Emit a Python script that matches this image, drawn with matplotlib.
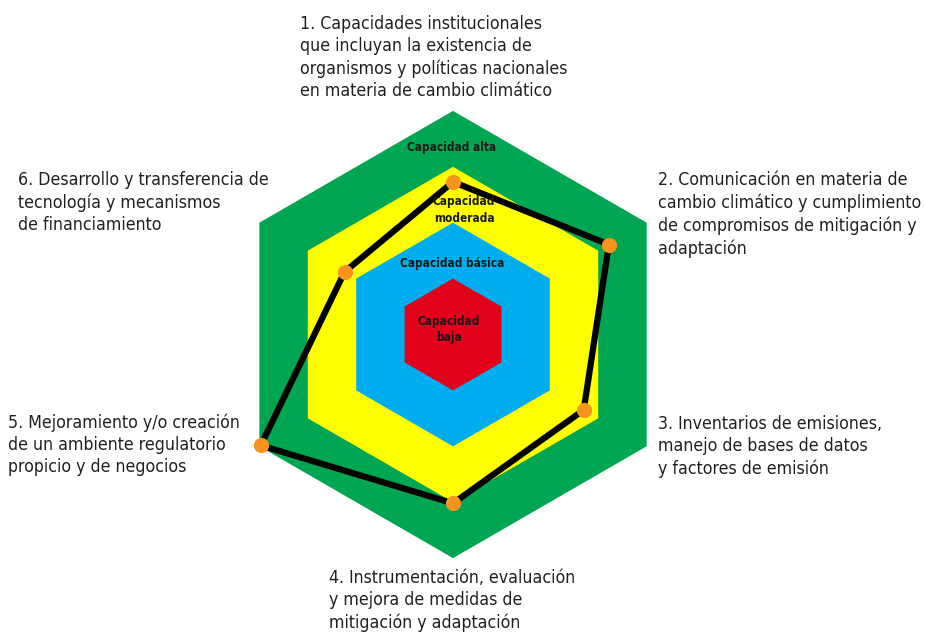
import numpy as np
import matplotlib.pyplot as plt

# dimensions of the assessment, clockwise from the top
dimensions = [
    "1. Capacidades institucionales\nque incluyan la existencia de\norganismos y políticas nacionales\nen materia de cambio climático",
    "2. Comunicación en materia de\ncambio climático y cumplimiento\nde compromisos de mitigación y\nadaptación",
    "3. Inventarios de emisiones,\nmanejo de bases de datos\ny factores de emisión",
    "4. Instrumentación, evaluación\ny mejora de medidas de\nmitigación y adaptación",
    "5. Mejoramiento y/o creación\nde un ambiente regulatorio\npropicio y de negocios",
    "6. Desarrollo y transferencia de\ntecnología y mecanismos\nde financiamiento",
]
scores = np.array([2.73, 3.22, 2.70, 3.02, 3.97, 2.24])

levels = [4, 3, 2, 1]
level_names = ["Capacidad alta", "Capacidad\nmoderada", "Capacidad básica", "Capacidad\nbaja"]
level_colors = ["#00a651", "#ffff00", "#00aeef", "#e2001a"]

W, H = 925, 632
cx, cy, unit = 453, 334.5, 55.9

angles = np.deg2rad([90, 30, -30, -90, -150, 150])

fig = plt.figure(figsize=(W / 100, H / 100), dpi=100)
ax = fig.add_axes([0, 0, 1, 1])
ax.set_xlim(-cx / unit, (W - cx) / unit)
ax.set_ylim(-(H - cy) / unit, cy / unit)
ax.axis("off")


def px(x, y):
    return x / W, 1 - y / H


for lvl, col in zip(levels, level_colors):
    ax.fill(lvl * np.cos(angles), lvl * np.sin(angles), color=col, lw=0, zorder=1)

xs = scores * np.cos(angles)
ys = scores * np.sin(angles)
ax.plot(np.append(xs, xs[0]), np.append(ys, ys[0]), color="black", lw=4.5,
        solid_joinstyle="miter", zorder=3)
ax.scatter(xs, ys, s=120, color="#f7941d", zorder=4, lw=0)

# level names inside the hexagons
level_pos = [(452, 147), (464, 210), (452, 263), (449, 330)]
for name, (x, y) in zip(level_names, level_pos):
    fig.text(*px(x, y), name, ha="center", va="center", fontsize=8.5,
             fontweight="bold", family="DejaVu Sans", fontstretch="condensed",
             linespacing=1.3, color="#1a1a1a", zorder=5)

# dimension labels around the chart (y = baseline of the last line)
label_pos = [(300, 96), (658, 254), (658, 474), (329, 628), (8, 472), (18, 230)]
for txt, (x, y) in zip(dimensions, label_pos):
    fig.text(*px(x, y), txt, ha="left", va="baseline", fontsize=12.7,
             family="DejaVu Sans", fontstretch="condensed",
             linespacing=1.3, color="#231f20")

fig.savefig("out.png", dpi=100, facecolor="white")
